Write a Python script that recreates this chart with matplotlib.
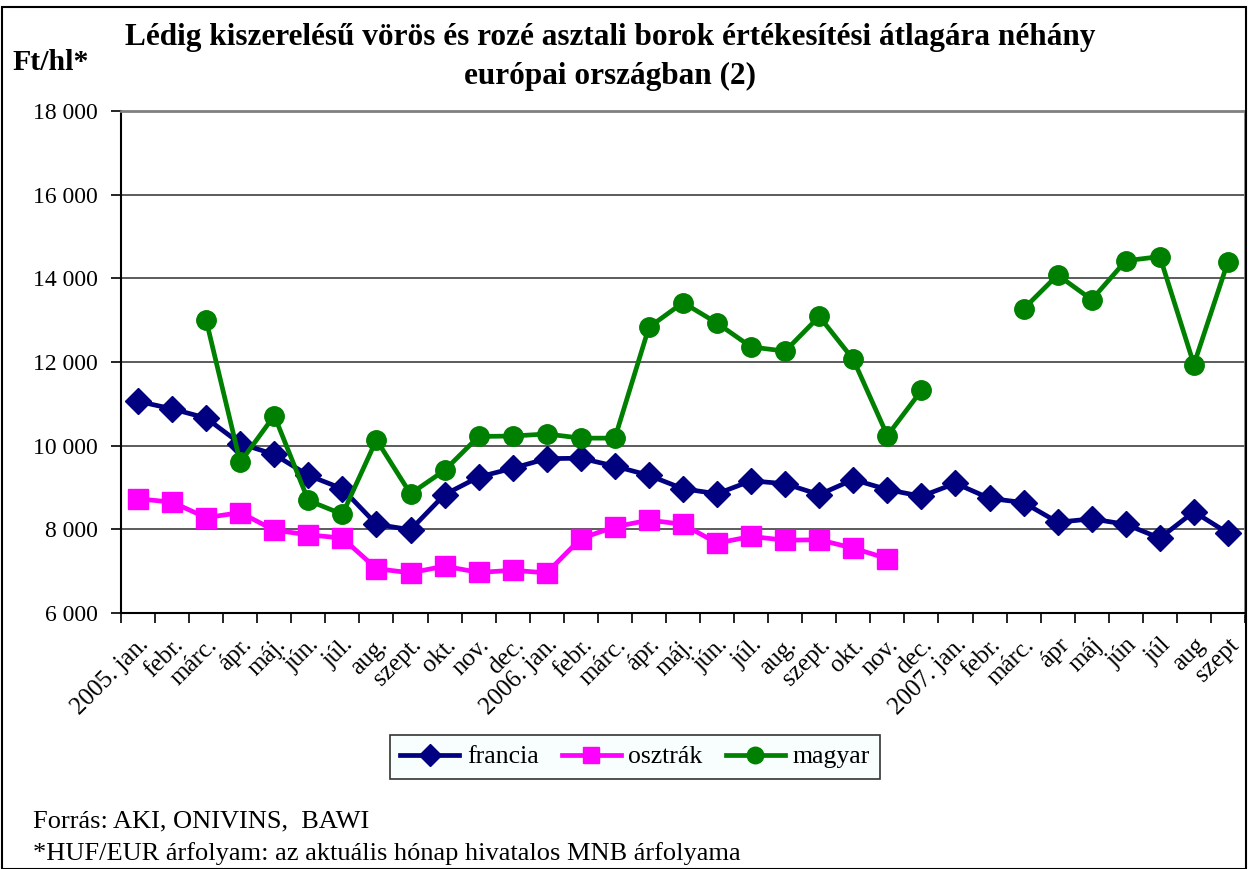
import numpy as np
import matplotlib
matplotlib.use('Agg')
import matplotlib.pyplot as plt
from matplotlib.patches import Rectangle
from matplotlib.ticker import FuncFormatter

nan = np.nan

# category labels along the x axis
months = ['2005. jan.', 'febr.', 'márc.', 'ápr.', 'máj.', 'jún.', 'júl.', 'aug.',
          'szept.', 'okt.', 'nov.', 'dec.', '2006. jan.', 'febr.', 'márc.', 'ápr.',
          'máj.', 'jún.', 'júl.', 'aug.', 'szept.', 'okt.', 'nov.', 'dec.',
          '2007. jan.', 'febr.', 'márc.', 'ápr', 'máj', 'jún', 'júl', 'aug', 'szept']

# Ft/hl values
francia = [11060, 10880, 10660, 10050, 9790, 9290, 8970, 8120, 7990, 8830, 9250, 9460,
           9690, 9700, 9510, 9290, 8970, 8850, 9160, 9090, 8830, 9190, 8950, 8790,
           9100, 8740, 8640, 8170, 8250, 8120, 7790, 8420, 7910]
osztrak = [8730, 8650, 8280, 8400, 7980, 7870, 7790, 7060, 6960, 7120, 6970, 7020,
           6960, 7780, 8060, 8220, 8120, 7670, 7830, 7740, 7750, 7550, 7300, nan,
           nan, nan, nan, nan, nan, nan, nan, nan, nan]
magyar = [nan, nan, 13000, 9600, 10720, 8690, 8360, 10140, 8850, 9410, 10220, 10230,
          10280, 10180, 10180, 12830, 13420, 12930, 12360, 12260, 13090, 12060, 10240, 11320,
          nan, nan, 13270, 14080, 13490, 14420, 14520, 11940, 14400]

series = [
    ('francia', francia, '#000080', 'D', 13),
    ('osztrák', osztrak, '#FF00FF', 's', 14),
    ('magyar', magyar, '#008000', 'o', 14),
]

plt.rcParams['font.family'] = ['Liberation Serif', 'DejaVu Serif']

fig = plt.figure(figsize=(12.48, 8.69), dpi=100)
W, H = 1248, 869
ax = fig.add_axes([121 / W, 1 - 613 / H, (1245 - 121) / W, (613 - 111) / H])

x = np.arange(len(months))
for name, vals, col, mk, ms in series:
    ax.plot(x, vals, color=col, lw=3.4, marker=mk, markersize=ms,
            markerfacecolor=col, markeredgecolor=col, label=name, zorder=3)

ax.set_xlim(-0.5, len(months) - 0.5)
ax.set_ylim(6000, 18000)
ax.set_yticks(np.arange(6000, 18001, 2000))
ax.yaxis.set_major_formatter(FuncFormatter(lambda v, p: f'{int(v):,}'.replace(',', ' ')))
ax.grid(axis='y', color='#404040', lw=1.2, zorder=1)
ax.tick_params(axis='y', labelsize=17, length=7, width=1.2, direction='out', pad=10)

ax.set_xticks(x)
ax.set_xticklabels(months, rotation=45, ha='right', rotation_mode='anchor', fontsize=18)
ax.set_xticks(np.arange(-0.5, len(months), 1), minor=True)
ax.tick_params(axis='x', which='major', length=0, pad=15)
ax.tick_params(axis='x', which='minor', length=7, width=1.2, direction='out')

for s in ['left', 'bottom']:
    ax.spines[s].set_color('black')
    ax.spines[s].set_linewidth(1.5)
for s in ['top', 'right']:
    ax.spines[s].set_color('#808080')
    ax.spines[s].set_linewidth(2)

fig.text(610 / W, 1 - 38 / H, 'Lédig kiszerelésű vörös és rozé asztali borok értékesítési átlagára néhány',
         ha='center', va='center', fontsize=22.5, fontweight='bold')
fig.text(610 / W, 1 - 76 / H, 'európai országban (2)',
         ha='center', va='center', fontsize=22.5, fontweight='bold')
fig.text(12 / W, 1 - 62 / H, 'Ft/hl*', ha='left', va='center', fontsize=21.5, fontweight='bold')

leg = fig.legend(loc='center', bbox_to_anchor=(635 / W, 1 - 757 / H), ncol=3,
                 fontsize=18.5, frameon=True, fancybox=False, edgecolor='black',
                 handlelength=2.3, columnspacing=0.9, handletextpad=0.3,
                 borderpad=0.4, markerscale=0.85)
leg.get_frame().set_linewidth(1.2)
leg.get_frame().set_facecolor('#f7fdfd')

fig.text(33 / W, 1 - 821 / H, 'Forrás: AKI, ONIVINS,  BAWI', ha='left', va='center', fontsize=19)
fig.text(33 / W, 1 - 854 / H, '*HUF/EUR árfolyam: az aktuális hónap hivatalos MNB árfolyama',
         ha='left', va='center', fontsize=19)

fig.patches.append(Rectangle((2 / W, 0), 1 - 4 / W, 1 - 7 / H, transform=fig.transFigure,
                             fill=False, edgecolor='black', lw=1.5))

fig.savefig('out.png', dpi=100)
